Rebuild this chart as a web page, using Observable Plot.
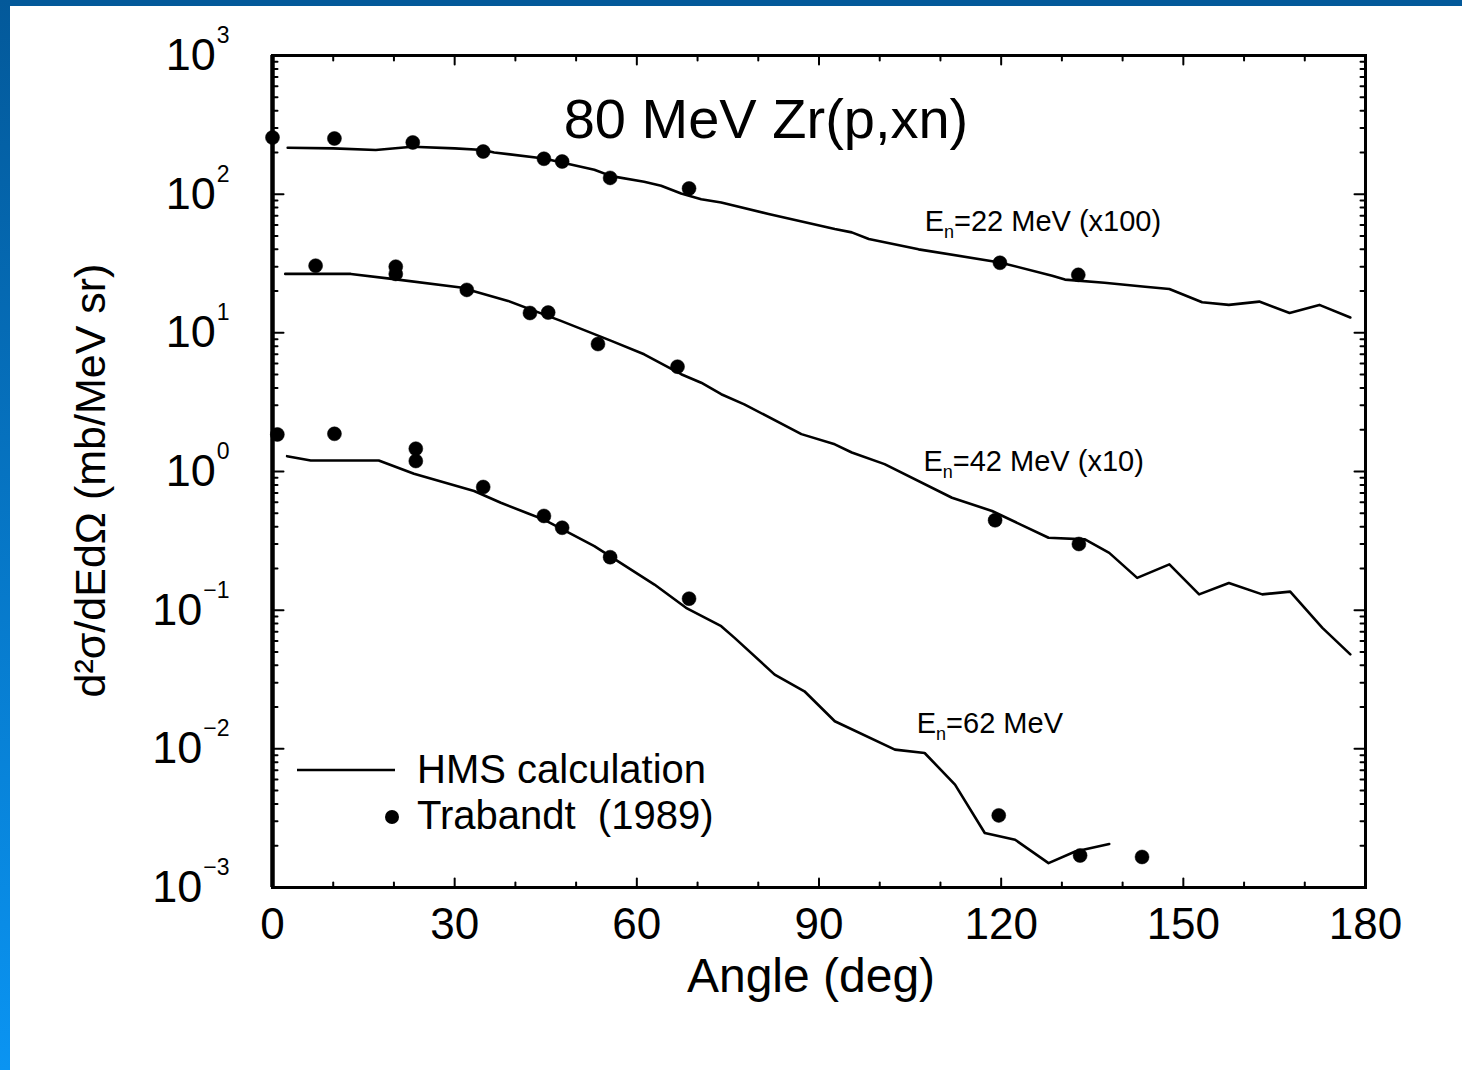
<!DOCTYPE html>
<html><head><meta charset="utf-8">
<script src="https://cdn.jsdelivr.net/npm/d3@7"></script>
<script src="https://cdn.jsdelivr.net/npm/@observablehq/plot@0.6"></script>
<style>
body{margin:0;background:#fff;}
#wrap{position:relative;width:1462px;height:1070px;overflow:hidden;font-family:"Liberation Sans",Arial,Helvetica,sans-serif;background:#fff;}
#wrap svg{position:absolute;left:0;top:0;}
#topbar{position:absolute;left:0;top:0;width:1462px;height:6px;background:#03599a;z-index:2;}
#leftbar{position:absolute;left:0;top:0;width:10px;height:1070px;background:linear-gradient(to bottom,#03599a,#0a94f2);z-index:2;}
</style></head>
<body><div id="wrap"><div id="topbar"></div><div id="leftbar"></div></div>
<script>
// ---------- data ----------
// HMS calculation, En = 22 MeV (x100)
const calc22Angle = [2.5, 10, 17, 23, 30, 34.7, 36.5, 44.7, 53, 55.8, 61.2, 64, 67.3, 70.6, 73.9, 81.7, 92.6, 95.4, 98.2, 106.4, 119.8, 128.4, 130.5, 137, 143.7, 147.7, 153.1, 157.5, 162.5, 167.5, 172.4, 177.5];
const calc22Value = [216, 214, 208, 220, 214, 208, 200, 181, 150, 135, 123, 115, 101, 92, 87, 72, 56, 53, 47.5, 40, 32.2, 25.8, 24.2, 23, 21.5, 20.7, 16.6, 15.9, 16.8, 13.9, 15.9, 12.9];
// HMS calculation, En = 42 MeV (x10)
const calc42Angle = [2.1, 12.9, 20, 31, 38.8, 47.5, 55.8, 61.2, 67.3, 70.6, 73.9, 77.7, 87.1, 92.6, 95.4, 100.8, 111.9, 118.5, 127.8, 133.8, 137.8, 142.4, 147.7, 152.6, 157.5, 163, 167.6, 172.9, 177.5];
const calc42Value = [26.6, 26.6, 24.4, 21.2, 17.0, 12.2, 8.75, 7.0, 5.03, 4.37, 3.61, 3.05, 1.86, 1.57, 1.37, 1.13, 0.647, 0.519, 0.333, 0.324, 0.259, 0.171, 0.214, 0.130, 0.157, 0.130, 0.136, 0.0745, 0.048];
// HMS calculation, En = 62 MeV
const calc62Angle = [2.4, 6.3, 17.5, 23.3, 33.2, 37.6, 42, 44.7, 53, 62.9, 68.1, 73.9, 76.1, 82.7, 87.6, 92.6, 102.5, 107.4, 112.4, 117.3, 122.3, 127.8, 132.2, 137.8];
const calc62Value = [1.29, 1.20, 1.20, 0.964, 0.723, 0.595, 0.50, 0.45, 0.290, 0.153, 0.104, 0.0766, 0.0631, 0.0343, 0.026, 0.0158, 0.00987, 0.00933, 0.00552, 0.00247, 0.00221, 0.0015, 0.00182, 0.00206];

// Trabandt (1989) measurements
const exp22Angle = [0, 10.2, 23.1, 34.7, 44.7, 47.7, 55.6, 68.6, 119.8, 132.7];
const exp22Value = [256, 252, 236, 203, 180, 172, 131, 110, 32, 26.2];
const exp42Angle = [7.1, 20.3, 20.3, 32, 42.4, 45.4, 53.6, 66.7, 119, 132.8];
const exp42Value = [30.5, 30, 26.6, 20.4, 13.9, 14.0, 8.3, 5.7, 0.445, 0.30];
const exp62Angle = [0.8, 10.2, 23.6, 23.6, 34.7, 44.7, 47.7, 55.6, 68.6, 119.6, 133, 143.2];
const exp62Value = [1.85, 1.87, 1.46, 1.19, 0.773, 0.478, 0.393, 0.241, 0.121, 0.00331, 0.0017, 0.00166];

// series labels and where they sit (angle, value at text baseline)
const seriesLabels = ["En=22 MeV (x100)", "En=42 MeV (x10)", "En=62 MeV"];
const seriesLabelAngle = [107.4, 107.2, 106.1];
const seriesLabelValue = [54.5, 1.01, 0.0130];

// axes
const xTickValues = [0, 30, 60, 90, 120, 150, 180];
const xMinorTickValues = [10, 20, 40, 50, 70, 80, 100, 110, 130, 140, 160, 170];
const yDecadeExponents = [-3, -2, -1, 0, 1, 2, 3];
const yTickBase = "10";
const titleText = "80 MeV Zr(p,xn)";
const xLabelText = "Angle (deg)";
const yLabelText = "d²σ/dEdΩ (mb/MeV sr)";
const legendLineText = "HMS calculation";
const legendDotText = "Trabandt  (1989)";

// ---------- build tables ----------
const zip = (a, v) => a.map((x, i) => ({angle: x, value: v[i]}));
const calcSeries = [zip(calc22Angle, calc22Value), zip(calc42Angle, calc42Value), zip(calc62Angle, calc62Value)];
const expPoints = [...zip(exp22Angle, exp22Value), ...zip(exp42Angle, exp42Value), ...zip(exp62Angle, exp62Value)];
const labelRows = seriesLabels.map((t, i) => ({text: t, angle: seriesLabelAngle[i], value: seriesLabelValue[i]}));
const yMajor = yDecadeExponents.map(e => Math.pow(10, e));
const yMinor = [];
for (const e of yDecadeExponents.slice(0, -1)) for (let k = 2; k <= 9; k++) yMinor.push(k * Math.pow(10, e));

const tickShape = {draw(ctx, l) { ctx.moveTo(0, 0); ctx.lineTo(0, -l); }};
const tick = (data, ch, anchor, rot, len) => Plot.vector(data, {
  [ch]: d => d, frameAnchor: anchor, rotate: rot, length: len, anchor: "start",
  shape: tickShape, stroke: "black", strokeWidth: 2
});

const FONT = '"Liberation Sans", Arial, Helvetica, sans-serif';

const chart = Plot.plot({
  width: 1462, height: 1070,
  marginLeft: 272, marginRight: 97, marginTop: 55, marginBottom: 183,
  style: {fontFamily: FONT, background: "transparent", color: "black", overflow: "visible"},
  x: {domain: [0, 180]},
  y: {type: "log", domain: [1e-3, 1e3]},
  marks: [
    Plot.axisX({anchor: "bottom", ticks: xTickValues, tickSize: 0, tickPadding: 20, fontSize: 44, label: null, tickFormat: d => String(d)}),
    Plot.axisY({anchor: "left", ticks: yMajor, tickSize: 0, tickPadding: 43, fontSize: 45, label: null,
      tickFormat: d => String(Math.round(Math.log10(d)))}),
    // inward ticks, all four sides
    tick(xTickValues, "x", "bottom", 0, 9),
    tick(xMinorTickValues, "x", "bottom", 0, 5),
    tick(xTickValues, "x", "top", 180, 9),
    tick(xMinorTickValues, "x", "top", 180, 5),
    tick(yMajor, "y", "left", 90, 11),
    tick(yMinor, "y", "left", 90, 5),
    tick(yMajor, "y", "right", -90, 11),
    tick(yMinor, "y", "right", -90, 5),
    Plot.frame({stroke: "black", strokeWidth: 3}),
    Plot.ruleX([0], {stroke: "black", strokeWidth: 4.5}),
    ...calcSeries.map(s => Plot.line(s, {x: "angle", y: "value", stroke: "black", strokeWidth: 2.6})),
    Plot.dot(expPoints, {x: "angle", y: "value", r: 7, fill: "black", stroke: "black", strokeWidth: 0.5}),
    Plot.text(labelRows, {x: "angle", y: "value", text: "text", textAnchor: "start", lineAnchor: "bottom", fontSize: 29}),
    Plot.text([titleText], {text: d => d, frameAnchor: "top", dx: -53, dy: 43, lineAnchor: "top", fontSize: 56}),
    Plot.text([xLabelText], {text: d => d, frameAnchor: "bottom", dx: -8, dy: 70, lineAnchor: "top", fontSize: 48}),
    Plot.text([yLabelText], {text: d => d, frameAnchor: "left", dx: -168, dy: 9, rotate: -90, lineAnchor: "bottom", textAnchor: "middle", fontSize: 43, letterSpacing: 1.6})
  ]
});

const svg = d3.select(chart);
// y tick labels: 10 with superscript exponent
svg.selectAll('g[aria-label="y-axis tick label"] text').each(function() {
  const e = this.textContent.replace("-", "\u2212");
  const t = d3.select(this);
  t.text(yTickBase);
  t.append("tspan").attr("dy", -27).attr("dx", 1).attr("font-size", 23).text(e);
});
// series labels: E with subscript n
svg.selectAll("text").filter(function() { return seriesLabels.includes(this.textContent); }).each(function() {
  const s = this.textContent;
  const t = d3.select(this);
  t.text(s[0]);
  t.append("tspan").attr("dy", 7).attr("font-size", 18).text(s[1]);
  t.append("tspan").attr("dy", -7).attr("font-size", 29).text(s.slice(2));
});
// legend (inside the frame, lower left)
const leg = svg.append("g").attr("font-family", FONT).attr("font-size", 40).attr("fill", "black").attr("text-anchor", "start");
leg.append("line").attr("x1", 297).attr("x2", 395).attr("y1", 770).attr("y2", 770).attr("stroke", "black").attr("stroke-width", 2.5);
leg.append("text").attr("x", 417).attr("y", 783).text(legendLineText);
leg.append("circle").attr("cx", 392).attr("cy", 817).attr("r", 7).attr("fill", "black");
leg.append("text").attr("x", 417).attr("y", 829).style("white-space", "pre").text(legendDotText);

document.getElementById("wrap").insertBefore(chart, document.getElementById("topbar"));
</script></body></html>
